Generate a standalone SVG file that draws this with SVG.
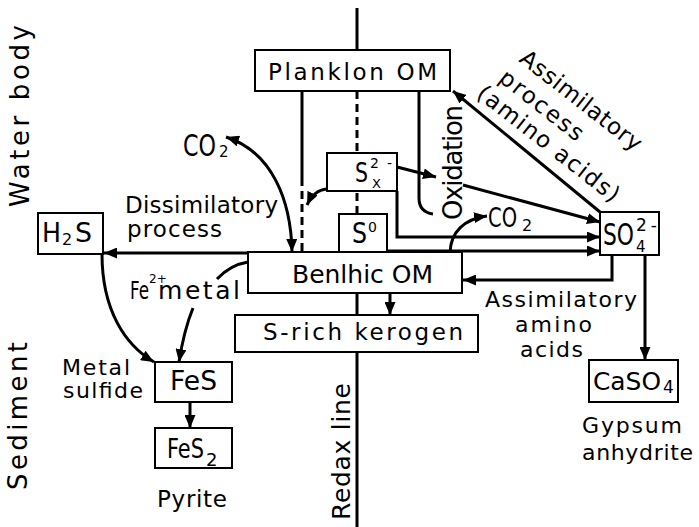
<svg xmlns="http://www.w3.org/2000/svg" width="699" height="527" viewBox="0 0 699 527" font-size="24">
<style>
text{font-family:"DejaVu Sans","Liberation Sans",Arial,sans-serif;fill:#000}
.box{fill:#fff;stroke:#000;stroke-width:2}
.c{fill:none;stroke:#000;stroke-width:3}
.d{stroke-dasharray:8 5}
.a{marker-end:url(#ah)}
.aa{marker-start:url(#ah);marker-end:url(#ah)}
</style>
<defs>
<marker id="ah" viewBox="0 0 12 10" refX="12" refY="5" markerWidth="13" markerHeight="11" markerUnits="userSpaceOnUse" orient="auto-start-reverse" preserveAspectRatio="none"><path d="M0,0 L12,5 L0,10 z" fill="#000"/></marker>
</defs>
<rect width="699" height="527" fill="#fff"/>

<g id="labels">
<text transform="translate(29,207) rotate(-90)" font-size="26" textLength="182">Water body</text>
<text transform="translate(27,490) rotate(-90)" font-size="26" textLength="148">Sediment</text>
<text transform="translate(350,520) rotate(-90)" font-size="25" textLength="137">Redax line</text>
<text transform="translate(462,220) rotate(-90)" font-size="26" textLength="115">Oxidation</text>
<g transform="translate(518,61) rotate(38)">
<text x="0" y="0" font-size="23" textLength="148">Assimilatory</text>
<text x="-4" y="28" font-size="23" textLength="100">process</text>
<text x="-12" y="54" font-size="23" textLength="174">(amino acids)</text>
</g>
<text x="125" y="213" font-size="23" textLength="153">Dissimilatory</text>
<text x="127" y="237" font-size="23" textLength="95">process</text>
<text font-size="24"><tspan x="130" y="299" textLength="19" lengthAdjust="spacingAndGlyphs">Fe</tspan><tspan x="149" y="283" font-size="12">2+</tspan><tspan x="158" y="299" font-size="25" textLength="82">metal</tspan></text>
<text x="62" y="375" font-size="22" textLength="68">Metal</text>
<text x="63" y="398" font-size="22" textLength="80">sulfide</text>
<text x="157" y="507" font-size="23" textLength="70">Pyrite</text>
<text x="485" y="307" font-size="22" textLength="152">Assimilatory</text>
<text x="515" y="332" font-size="22" textLength="77">amino</text>
<text x="520" y="357" font-size="22" textLength="63">acids</text>
<text x="582" y="433" font-size="22" textLength="100">Gypsum</text>
<text x="582" y="460" font-size="22" textLength="111">anhydrite</text>
<text font-size="30"><tspan x="183" y="156" textLength="33" lengthAdjust="spacingAndGlyphs">CO</tspan><tspan x="219" y="157" font-size="15">2</tspan></text>
<text font-size="26"><tspan x="488" y="227" textLength="29" lengthAdjust="spacingAndGlyphs">CO</tspan><tspan x="522" y="231" font-size="16">2</tspan></text>
</g>

<g id="connectors">
<path class="c" d="M357,8 V60"/>
<path class="c d" d="M357,91 V153"/>
<path class="c d" d="M357,193 V214"/>
<path class="c" d="M357,290 V527"/>
<path class="c" d="M302,91 V178"/>
<path class="c d" d="M302,178 V252"/>
<path class="c" d="M419,91 V198 Q419,212 433,214"/>
<path class="c a" d="M397,167 L436,177"/>
<path class="c a" d="M463,185 L600,222"/>
<path class="c a" d="M397,191 V237 H600"/>
<path class="c a" d="M387,251 H600"/>
<path class="c a" d="M612,255 V280 H463"/>
<path class="c a" d="M645,255 V360"/>
<path class="c a" d="M600,212 L453,91"/>
<path class="c a" d="M450,252 C451,232 464,219 487,216"/>
<path class="c aa" d="M292,252 C291,200 272,152 226,137"/>
<path class="c a" d="M327,189 Q314,190 307,205"/>
<path class="c a" d="M248,253 H104"/>
<path class="c a" d="M102,254 C102,310 125,345 154,362"/>
<path class="c" d="M248,262 Q230,265 217,279"/>
<path class="c a" d="M193,308 Q184,330 179,362"/>
<path class="c a" d="M190,402 V428"/>
<path class="c a" d="M390,293 V315"/>
</g>

<g id="planklon"><rect class="box" x="255" y="50" width="195" height="41"/><text x="268" y="80" font-size="23" textLength="169">Planklon OM</text></g>
<g id="sx"><rect class="box" x="327" y="153" width="70" height="38"/><text font-size="26"><tspan x="355" y="182" textLength="13" lengthAdjust="spacingAndGlyphs">S</tspan><tspan x="370" y="168" font-size="14" textLength="22">2-</tspan><tspan x="372" y="188" font-size="13">X</tspan></text></g>
<g id="s0"><rect class="box" x="339" y="214" width="48" height="40"/><text font-size="28"><tspan x="352" y="243" textLength="15" lengthAdjust="spacingAndGlyphs">S</tspan><tspan x="368" y="232" font-size="14">0</tspan></text></g>
<g id="benthic"><rect class="box" x="248" y="252" width="214" height="41"/><text x="292" y="283" font-size="25" textLength="141">Benlhic OM</text></g>
<g id="kerogen"><rect class="box" x="235" y="315" width="243" height="37"/><text x="263" y="340" font-size="23" textLength="200">S-rich kerogen</text></g>
<g id="h2s"><rect class="box" x="38" y="213" width="65" height="41"/><text font-size="27"><tspan x="42" y="242" textLength="19" lengthAdjust="spacingAndGlyphs">H</tspan><tspan x="62" y="245" font-size="16">2</tspan><tspan x="75" y="242" textLength="17" lengthAdjust="spacingAndGlyphs">S</tspan></text></g>
<g id="so4"><rect class="box" x="600" y="212" width="59" height="43"/><text font-size="30"><tspan x="603" y="245" textLength="31" lengthAdjust="spacingAndGlyphs">SO</tspan><tspan x="636" y="231" font-size="17" textLength="21">2-</tspan><tspan x="636" y="252" font-size="15">4</tspan></text></g>
<g id="fes"><rect class="box" x="155" y="362" width="77" height="40"/><text x="170" y="390" font-size="26" textLength="47" lengthAdjust="spacingAndGlyphs">FeS</text></g>
<g id="fes2"><rect class="box" x="155" y="428" width="77" height="40"/><text font-size="26"><tspan x="167" y="458" textLength="37" lengthAdjust="spacingAndGlyphs">FeS</tspan><tspan x="206" y="466" font-size="18">2</tspan></text></g>
<g id="caso4"><rect class="box" x="589" y="360" width="89" height="42"/><text font-size="25"><tspan x="593" y="390" textLength="68" lengthAdjust="spacingAndGlyphs">CaSO</tspan><tspan x="663" y="393" font-size="17">4</tspan></text></g>
</svg>
